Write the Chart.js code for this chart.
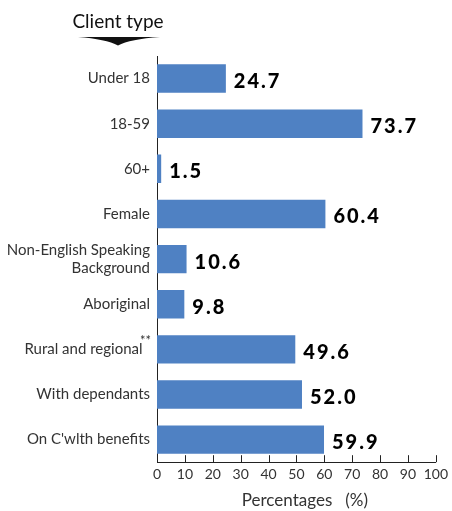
<!DOCTYPE html>
<html>
<head>
<meta charset="utf-8">
<script src="https://cdn.jsdelivr.net/npm/chart.js@4"></script>
<style>
  html, body { margin:0; padding:0; background:#fff; }
  #wrap { width:452px; height:511px; position:relative; }
</style>
</head>
<body>
<div id="wrap"><canvas id="chartClientType"></canvas></div>
<script>
// ============= DATA =============
const categories = [
  'Under 18',
  '18-59',
  '60+',
  'Female',
  ['Non-English Speaking', 'Background'],
  'Aboriginal',
  'Rural and regional\u2002',
  'With dependants',
  "On C'wlth benefits"
];
const percentages = [24.7, 73.7, 1.5, 60.4, 10.6, 9.8, 49.6, 52.0, 59.9];
const xTicks = [0, 10, 20, 30, 40, 50, 60, 70, 80, 90, 100];
const footnoteIndex = 6; // "Rural and regional" carries the ** marker

const LABEL_FONT = 'Lato, "Open Sans", sans-serif';
const BAR_COLOR = '#4f81c3';

// ============= PLUGINS =============
// header text with the black wedge pointer under it
const headerPlugin = {
  id: 'header',
  afterDraw(chart) {
    const ctx = chart.ctx;
    ctx.save();
    ctx.fillStyle = '#111';
    ctx.font = '19px ' + LABEL_FONT;
    ctx.textAlign = 'center';
    ctx.textBaseline = 'alphabetic';
    ctx.fillText('Client type', 118, 28);
    // wedge
    ctx.beginPath();
    ctx.moveTo(78, 37);
    ctx.lineTo(160, 37);
    ctx.quadraticCurveTo(130, 39, 118, 45.5);
    ctx.quadraticCurveTo(106, 39, 78, 37);
    ctx.closePath();
    ctx.fill();
    ctx.restore();
  }
};

// upward tick marks on the x axis + ** footnote + value labels
const decorPlugin = {
  id: 'decor',
  afterDatasetsDraw(chart) {
    const ctx = chart.ctx;
    const x = chart.scales.x, y = chart.scales.y;
    const area = chart.chartArea;
    ctx.save();
    ctx.strokeStyle = '#222';
    ctx.lineWidth = 1;
    xTicks.forEach(t => {
      const px = Math.round(x.getPixelForValue(t)) + 0.5;
      ctx.beginPath();
      ctx.moveTo(px, area.bottom);
      ctx.lineTo(px, area.bottom - 7);
      ctx.stroke();
    });

    // value labels
    ctx.fillStyle = '#000';
    ctx.font = '900 20px ' + LABEL_FONT;
    ctx.letterSpacing = '2px';
    ctx.textAlign = 'left';
    ctx.textBaseline = 'middle';
    const meta = chart.getDatasetMeta(0);
    meta.data.forEach((bar, i) => {
      ctx.fillText(percentages[i].toFixed(1), bar.x + 8, bar.y + 3);
    });
    ctx.letterSpacing = '0px';

    // footnote asterisks on the rural label
    const yy = y.getPixelForValue(footnoteIndex);
    ctx.fillStyle = '#333';
    ctx.font = '13px ' + LABEL_FONT;
    ctx.textAlign = 'left';
    ctx.fillText('**', area.left - 17, yy - 9);
    ctx.restore();
  }
};

// ============= CHART =============
new Chart(document.getElementById('chartClientType'), {
  type: 'bar',
  data: {
    labels: categories,
    datasets: [{
      data: percentages,
      backgroundColor: BAR_COLOR,
      borderWidth: 0,
      barPercentage: 0.63,
      categoryPercentage: 1
    }]
  },
  options: {
    indexAxis: 'y',
    responsive: true,
    maintainAspectRatio: false,
    animation: false,
    layout: { padding: { top: 56, right: 11, bottom: -2, left: 0 } },
    plugins: {
      legend: { display: false },
      tooltip: { enabled: false }
    },
    scales: {
      x: {
        min: 0,
        max: 100,
        afterBuildTicks: s => { s.ticks = xTicks.map(v => ({ value: v })); },
        grid: { display: false, drawTicks: false, tickLength: 0 },
        border: { display: true, color: '#222', width: 1 },
        ticks: {
          color: '#333', font: { family: LABEL_FONT, size: 14 }, padding: 4,
          maxRotation: 0, minRotation: 0, autoSkip: false
        },
        title: {
          display: true,
          text: '\u2002\u2002Percentages   (%)',
          color: '#333',
          font: { family: LABEL_FONT, size: 17, lineHeight: 1 },
          padding: { top: 5, bottom: 4 }
        }
      },
      y: {
        afterFit: s => { s.width = 157; },
        grid: { display: false, drawTicks: false, tickLength: 0 },
        border: { display: true, color: '#222', width: 1 },
        ticks: { color: '#333', font: { family: LABEL_FONT, size: 15, lineHeight: 1.2 }, padding: 7 }
      }
    }
  },
  plugins: [headerPlugin, decorPlugin]
});
</script>
</body>
</html>
